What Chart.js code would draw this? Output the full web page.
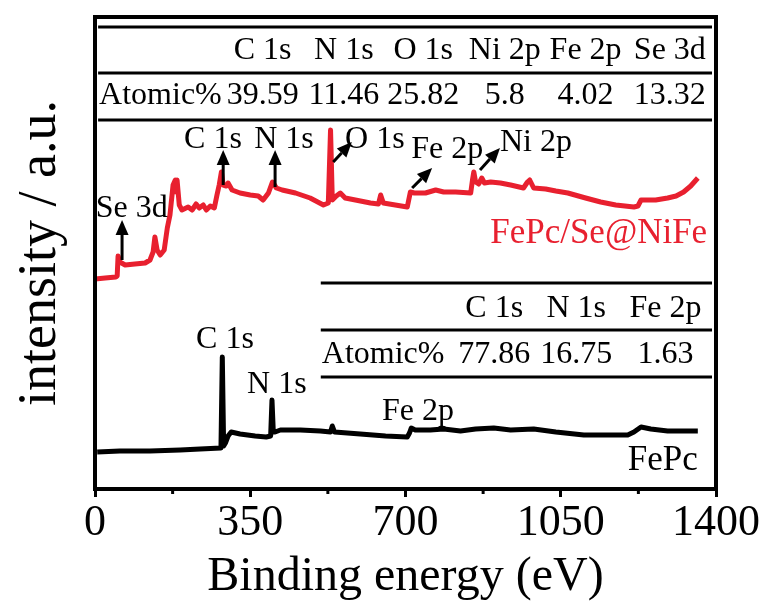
<!DOCTYPE html>
<html><head><meta charset="utf-8">
<script src="https://cdn.jsdelivr.net/npm/chart.js@4"></script>
<style>html,body{margin:0;padding:0;background:#fff}#wrap{width:767px;height:606px;position:relative}</style>
</head><body><div id="wrap"><canvas id="c"></canvas></div>
<script>
// ---- data (binding energy in eV, intensity in arbitrary units) ----
const energyRed = [0,23,47,50,52,56,68,90,113,124,131,135,140,147,156,163,169,176,181,183,185,190,196,210,219,228,235,244,251,260,269,275,280,285,289,296,300,309,327,350,368,379,391,400,409,422,452,485,515,526,531,535,544,553,564,587,621,639,644,650,677,704,711,720,745,768,786,813,847,851,854,858,865,872,878,892,914,937,966,975,980,989,1016,1039,1066,1106,1140,1174,1215,1224,1231,1264,1291,1310,1327,1343,1359];
const intensityRed = [211,212,213,214,234,228,225,226,227,230,238,253,240,235,240,262,275,305,310,298,310,285,280,283,280,286,282,285,280,284,282,295,305,318,305,304,307,300,297,295,294,290,297,308,302,300,297,292,285,287,360,290,294,297,292,290,287,286,295,287,285,283,298,297,297,300,298,298,297,310,318,308,306,312,307,308,307,305,302,308,310,302,301,299,297,292,288,285,283,284,290,290,292,294,298,304,312];
const energyBlack = [5,56,124,192,237,284,287,290,294,300,307,327,361,386,396,399,402,406,418,463,508,531,535,540,598,655,704,709,713,722,756,786,824,858,899,937,989,1039,1102,1140,1201,1215,1231,1253,1291,1359];
const intensityBlack = [38,39,39,40,41,42,133,44,47,54,58,56,54,53,54,90,58,58,60,60,59,58,64,58,56,54,53,57,62,60,60,61,59,61,62,60,61,58,55,55,55,58,63,61,59,59];
const seriesNames = ['FePc/Se@NiFe', 'FePc'];
const xTicks = [0, 350, 700, 1050, 1400];
const tableTopHeads = ['C 1s', 'N 1s', 'O 1s', 'Ni 2p', 'Fe 2p', 'Se 3d'];
const tableTopValues = ['39.59', '11.46', '25.82', '5.8', '4.02', '13.32'];
const tableBottomHeads = ['C 1s', 'N 1s', 'Fe 2p'];
const tableBottomValues = ['77.86', '16.75', '1.63'];
const rowLabel = 'Atomic%';
const peakLabelsRed = ['Se 3d', 'C 1s', 'N 1s', 'O 1s', 'Fe 2p', 'Ni 2p'];
const peakLabelsBlack = ['C 1s', 'N 1s', 'Fe 2p'];

// ---- annotation placement (data coordinates) ----
const RED = '#e8202f';
const FONT = '"Liberation Serif", "Times New Roman", serif';
const topTable = { x0: 7, x1: 1391, rules: [463, 417, 370], headBase: 431, rowBase: 386, cols: [378, 561, 740, 924, 1106, 1296] };
const bottomTable = { x0: 509, x1: 1391, rules: [207, 160, 113], headBase: 173, rowBase: 127, cols: [900, 1085, 1286] };
const redLabelPos = [[83, 273], [266, 342], [426, 342], [631, 342], [794, 332], [994, 339]];
const blackLabelPos = [[293, 142], [410, 97], [728, 70]];
const redArrows = [[61, 230, 61, 270], [289, 305, 289, 340], [406, 303, 406, 340], [537, 328, 579, 348], [715, 302, 760, 322], [868, 320, 913, 342]];
const redNamePos = [1380, 247];
const blackNamePos = [1359, 20];

const annotate = {
  id: 'annotate',
  afterDatasetsDraw(chart) {
    const { ctx, chartArea: a, scales: { x, y } } = chart;
    const X = v => x.getPixelForValue(v), Y = v => y.getPixelForValue(v);
    ctx.save();
    ctx.strokeStyle = '#000'; ctx.fillStyle = '#000';
    // minor ticks
    ctx.lineWidth = 3;
    for (let i = 0; i < xTicks.length - 1; i++) {
      const m = (xTicks[i] + xTicks[i + 1]) / 2;
      ctx.beginPath(); ctx.moveTo(X(m), a.bottom); ctx.lineTo(X(m), a.bottom + 5); ctx.stroke();
    }
    // frame
    ctx.lineWidth = 4;
    ctx.strokeRect(a.left, a.top, a.right - a.left, a.bottom - a.top);
    // tables
    const drawTable = (t, heads, vals) => {
      ctx.lineWidth = 3;
      t.rules.forEach(r => { ctx.beginPath(); ctx.moveTo(X(t.x0), Y(r)); ctx.lineTo(X(t.x1), Y(r)); ctx.stroke(); });
      ctx.font = '32px ' + FONT; ctx.textBaseline = 'alphabetic';
      ctx.textAlign = 'center';
      heads.forEach((h, i) => ctx.fillText(h, X(t.cols[i]), Y(t.headBase)));
      vals.forEach((v, i) => ctx.fillText(v, X(t.cols[i]), Y(t.rowBase)));
      ctx.textAlign = 'left';
      ctx.fillText(rowLabel, X(t.x0) + 1, Y(t.rowBase));
    };
    drawTable(topTable, tableTopHeads, tableTopValues);
    drawTable(bottomTable, tableBottomHeads, tableBottomValues);
    // peak labels
    ctx.font = '32px ' + FONT; ctx.textAlign = 'center'; ctx.fillStyle = '#000';
    peakLabelsRed.forEach((s, i) => ctx.fillText(s, X(redLabelPos[i][0]), Y(redLabelPos[i][1])));
    peakLabelsBlack.forEach((s, i) => ctx.fillText(s, X(blackLabelPos[i][0]), Y(blackLabelPos[i][1])));
    // arrows
    redArrows.forEach(([e0, v0, e1, v1]) => {
      const x0 = X(e0), y0 = Y(v0), x1 = X(e1), y1 = Y(v1);
      const ang = Math.atan2(y1 - y0, x1 - x0), hl = 15, hw = 6.5;
      const bx = x1 - hl * Math.cos(ang), by = y1 - hl * Math.sin(ang);
      ctx.lineWidth = 3;
      ctx.beginPath(); ctx.moveTo(x0, y0); ctx.lineTo(bx, by); ctx.stroke();
      ctx.beginPath(); ctx.moveTo(x1, y1);
      ctx.lineTo(bx + hw * Math.sin(ang), by - hw * Math.cos(ang));
      ctx.lineTo(bx - hw * Math.sin(ang), by + hw * Math.cos(ang));
      ctx.closePath(); ctx.fill();
    });
    // series names
    ctx.font = '35px ' + FONT; ctx.textAlign = 'right';
    ctx.fillStyle = RED; ctx.fillText(seriesNames[0], X(redNamePos[0]), Y(redNamePos[1]));
    ctx.fillStyle = '#000'; ctx.fillText(seriesNames[1], X(blackNamePos[0]), Y(blackNamePos[1]));
    ctx.restore();
  }
};

const mk = (e, v) => e.map((xv, i) => ({ x: xv, y: v[i] }));
new Chart(document.getElementById('c'), {
  type: 'line',
  data: {
    datasets: [
      { label: seriesNames[0], data: mk(energyRed, intensityRed), borderColor: RED, borderWidth: 5, pointRadius: 0, tension: 0, borderJoinStyle: 'round', fill: false },
      { label: seriesNames[1], data: mk(energyBlack, intensityBlack), borderColor: '#000', borderWidth: 5, pointRadius: 0, tension: 0, borderJoinStyle: 'round', fill: false }
    ]
  },
  options: {
    responsive: true, maintainAspectRatio: false, animation: false,
    layout: { padding: { left: 8, right: 51, top: 17, bottom: 0 } },
    plugins: { legend: { display: false }, tooltip: { enabled: false } },
    scales: {
      x: {
        type: 'linear', min: 0, max: 1400,
        afterBuildTicks: s => { s.ticks = xTicks.map(v => ({ value: v })); },
        ticks: { font: { family: FONT, size: 44 }, color: '#000', padding: 0, maxRotation: 0, autoSkip: false, callback: v => String(v) },
        grid: { drawOnChartArea: false, drawTicks: true, tickLength: 8, color: '#000', lineWidth: 3 },
        border: { display: false },
        title: { display: true, text: 'Binding energy (eV)', font: { family: FONT, size: 48 }, color: '#000', padding: { top: 0, bottom: 0 } },
        afterFit: s => { s.height = 117; }
      },
      y: {
        type: 'linear', min: 1, max: 473,
        ticks: { display: false }, grid: { display: false }, border: { display: false },
        title: { display: true, text: 'intensity / a.u.', font: { family: FONT, size: 54 }, color: '#000', padding: { top: 0, bottom: 0 } },
        afterFit: s => { s.width = 87; }
      }
    }
  },
  plugins: [annotate]
});
</script>
</body></html>
